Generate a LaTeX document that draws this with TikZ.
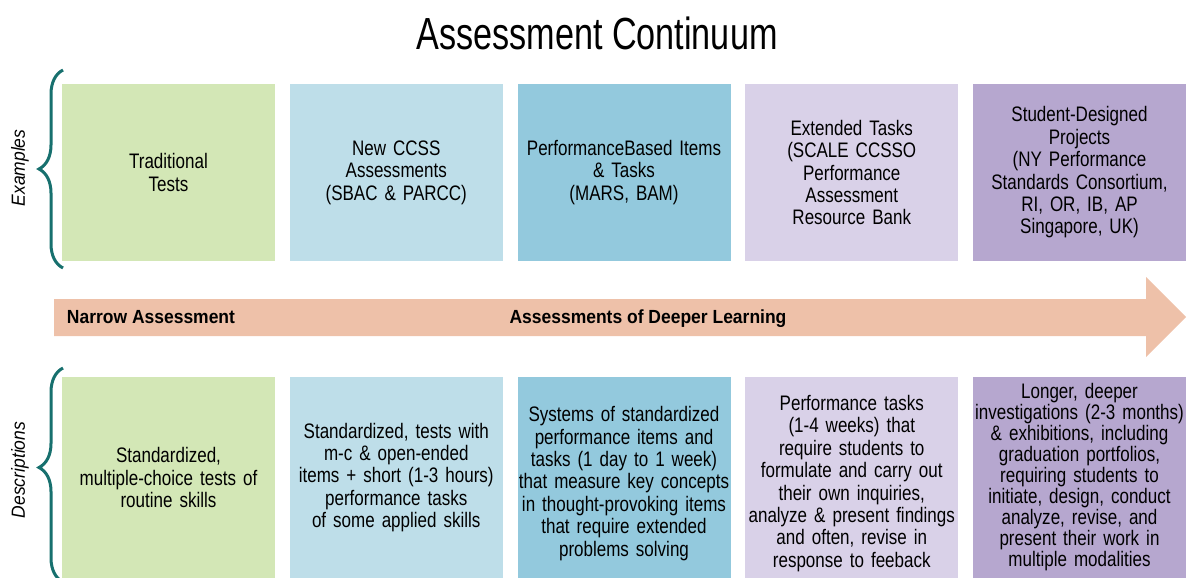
\documentclass[tikz,border=0pt]{standalone}
\usepackage{fontspec}
\setmainfont[FakeStretch=0.81]{Liberation Sans}
\newfontfamily\titlefont[FakeStretch=0.76]{Liberation Sans}
\newfontfamily\sidefont[FakeStretch=0.92]{Liberation Sans}
\usetikzlibrary{positioning,decorations.pathreplacing}
\definecolor{tests}{HTML}{D3E7B6}
\definecolor{ccss}{HTML}{BEDEE9}
\definecolor{perf}{HTML}{93C9DD}
\definecolor{extended}{HTML}{D9D1E8}
\definecolor{projects}{HTML}{B6A7CF}
\definecolor{continuum}{HTML}{EEC1A9}
\definecolor{bracket}{HTML}{17706E}

\begin{document}
\begin{tikzpicture}[x=1pt,y=-1pt]
\useasboundingbox (0,0) rectangle (1194,578);
\tikzstyle{every node}+=[node distance=227.75pt]
\tikzstyle{card}=[minimum width=213pt, text width=211pt, inner sep=0pt, align=center, font=\fontsize{21}{22.4}\selectfont]
\tikzstyle{upper}=[card, minimum height=177pt]
\tikzstyle{lower}=[card, minimum height=201pt]
\tikzstyle{bracket}=[draw=bracket, line width=3pt, decorate, decoration={brace, amplitude=24pt}]
\tikzstyle{label}=[anchor=base, font=\sidefont\fontsize{19}{20}\selectfont\bfseries]

\node (title) at (597,33) {\titlefont\fontsize{45}{50}\selectfont Assessment Continuum};

\node[upper, fill=tests] (tests) at (168.5,172.5) {Traditional\\Tests};
\node[upper, fill=ccss, right of=tests] (ccss) {New CCSS\\Assessments\\(SBAC \& PARCC)};
\node[upper, fill=perf, right of=ccss] (perf) {PerformanceBased Items\\\& Tasks\\(MARS, BAM)};
\node[upper, fill=extended, right of=perf] (extended) {Extended Tasks\\(SCALE CCSSO\\Performance\\Assessment\\Resource Bank};
\node[upper, fill=projects, right of=extended] (projects) {Student-Designed\\Projects\\(NY Performance\\Standards Consortium,\\RI, OR, IB, AP\\Singapore, UK)};

\node[lower, fill=tests] (routine) at (168.5,477.5) {Standardized,\\multiple-choice tests of\\routine skills};
\node[lower, fill=ccss, right of=routine] (openended) {Standardized, tests with\\m-c \& open-ended\\items + short (1-3 hours)\\performance tasks\\of some applied skills};
\node[lower, fill=perf, right of=openended] (systems) {\rule{0pt}{27pt}Systems of standardized\\performance items and\\tasks (1 day to 1 week)\\that measure key concepts\\in thought-provoking items\\that require extended\\problems solving};
\node[lower, fill=extended, right of=systems] (inquiries) {\rule{0pt}{27pt}Performance tasks\\(1-4 weeks) that\\require students to\\formulate and carry out\\their own inquiries,\\analyze \& present findings\\and often, revise in\\response to feeback};
\node[lower, fill=projects, right of=inquiries, font=\fontsize{21}{21}\selectfont] (portfolios) {Longer, deeper\\investigations (2-3 months)\\\& exhibitions, including\\graduation portfolios,\\requiring students to\\initiate, design, conduct\\analyze, revise, and\\present their work in\\multiple modalities};

\fill[continuum] (54,299) -- (1146,299) -- (1146,277) -- (1186,317) -- (1146,357) -- (1146,336) -- (54,336) -- cycle;
\node[label] (narrow) at (151,323) {Narrow Assessment};
\node[label] (deeper) at (648,323) {Assessments of Deeper Learning};

\draw[bracket] (63,268) -- (63,70);
\draw[bracket, decoration={aspect=0.535}] (63,582) -- (63,368);
\node[rotate=90, font=\sidefont\fontsize{19}{20}\selectfont\itshape] (examples) at (20,168) {Examples};
\node[rotate=90, font=\sidefont\fontsize{19}{20}\selectfont\itshape] (descriptions) at (20,470) {Descriptions};
\end{tikzpicture}
\end{document}
